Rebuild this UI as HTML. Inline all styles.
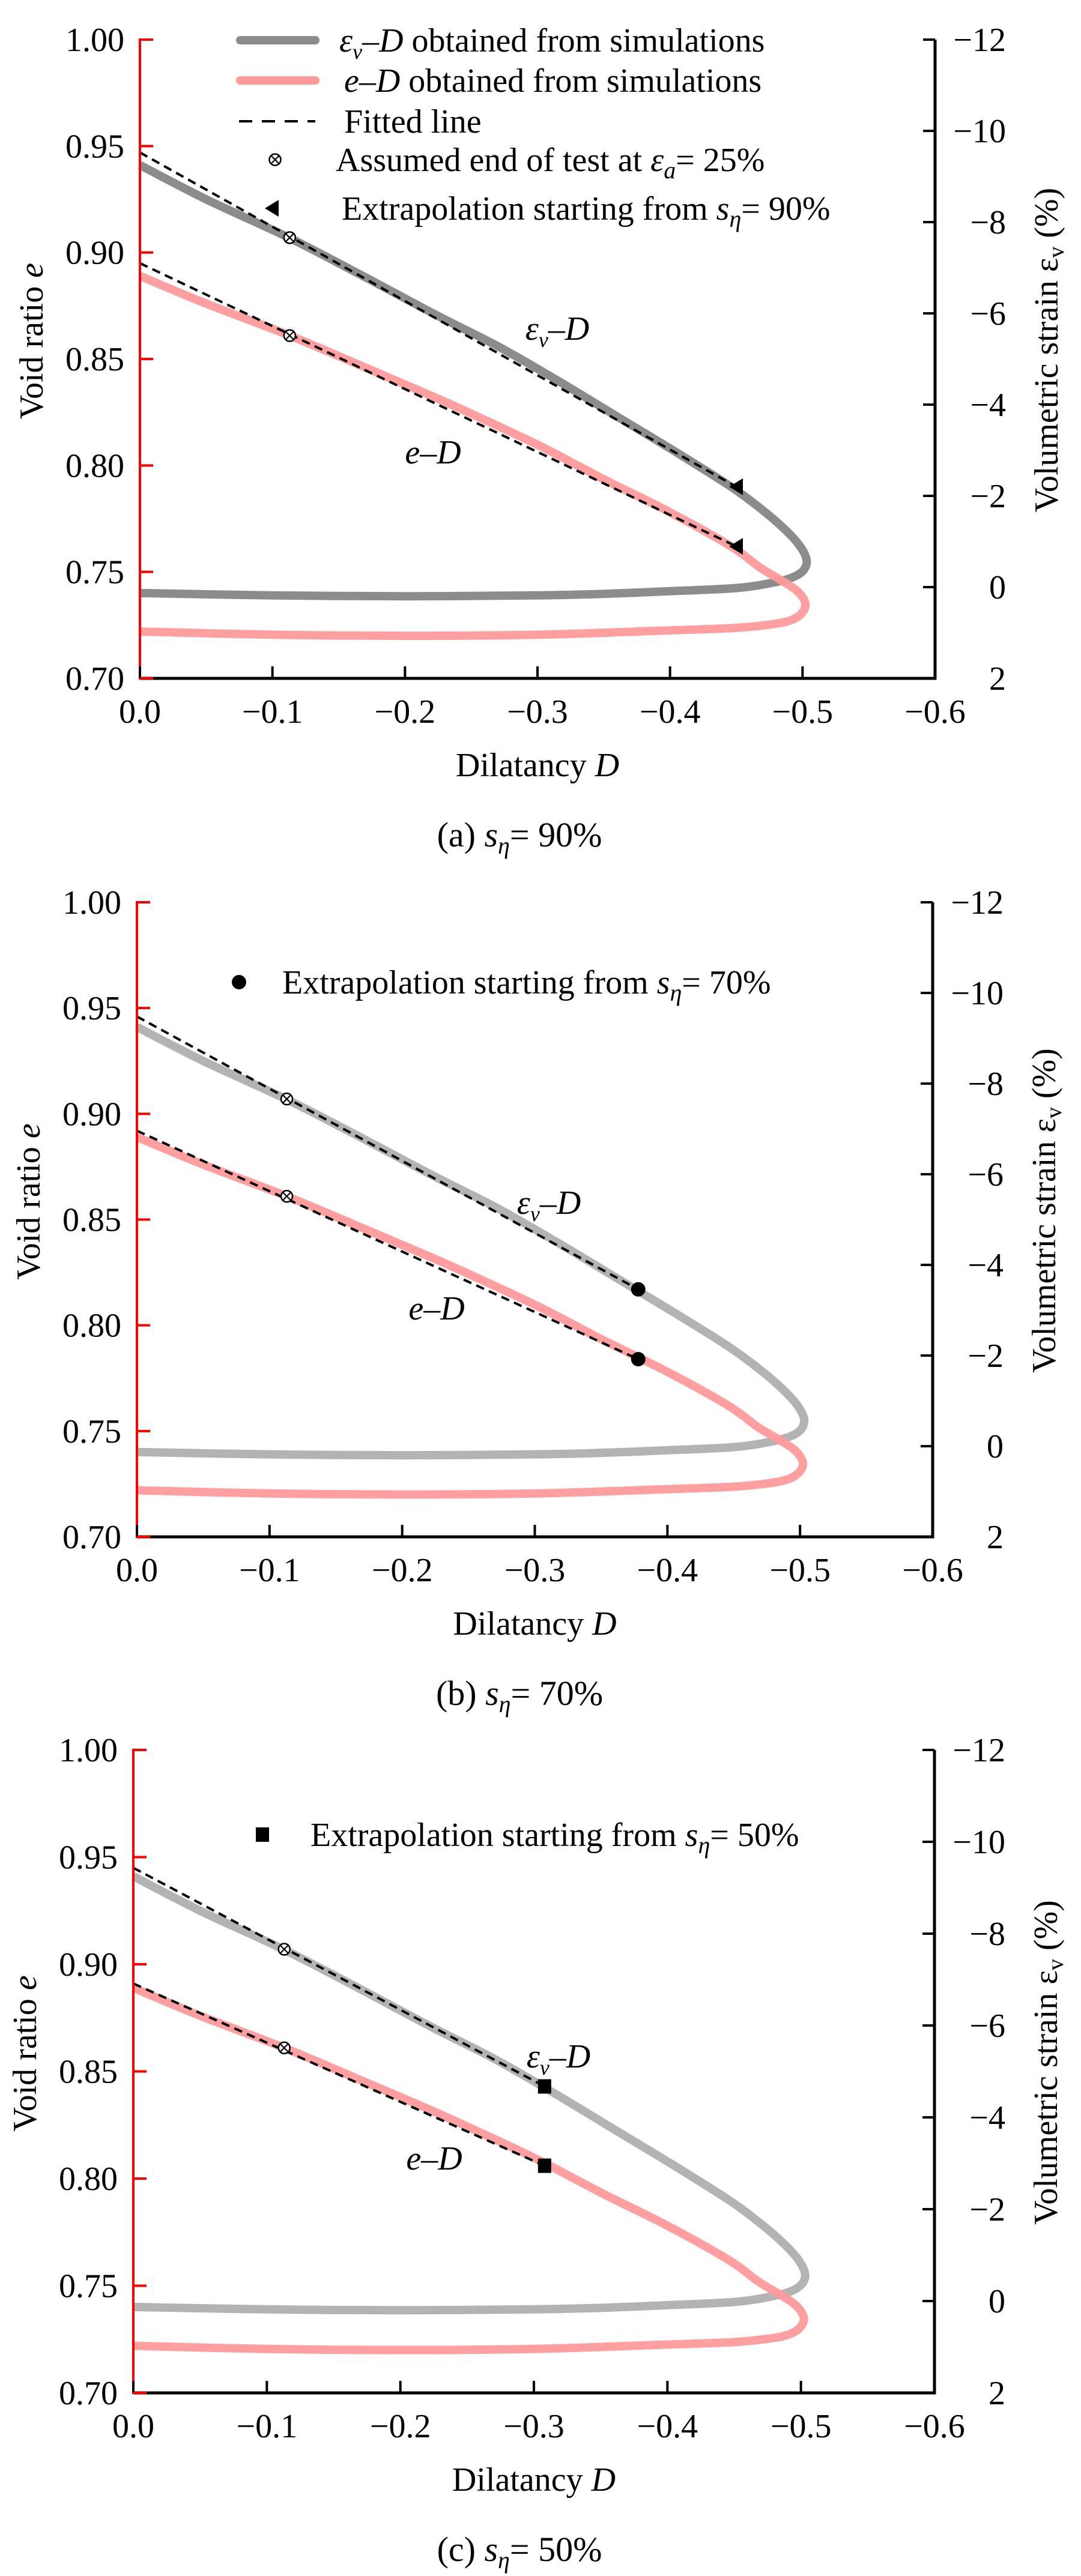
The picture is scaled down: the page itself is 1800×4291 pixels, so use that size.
<!DOCTYPE html>
<html><head><meta charset="utf-8">
<style>
html,body{margin:0;padding:0;background:#fff;}
svg{display:block;font-family:"Liberation Serif","DejaVu Serif",serif;}
</style></head>
<body>
<svg id="fig" width="1800" height="4291" viewBox="0 0 1800 4291" xmlns="http://www.w3.org/2000/svg"></svg>
<script>
// ---- data ----
const xTicks = [0, -0.1, -0.2, -0.3, -0.4, -0.5, -0.6];
const xTickLabels = ["0.0", "\u22120.1", "\u22120.2", "\u22120.3", "\u22120.4", "\u22120.5", "\u22120.6"];
const eTicks = [0.70, 0.75, 0.80, 0.85, 0.90, 0.95, 1.00];
const eTickLabels = ["0.70", "0.75", "0.80", "0.85", "0.90", "0.95", "1.00"];
const evTicks = [2, 0, -2, -4, -6, -8, -10, -12];
const evTickLabels = ["2", "0", "\u22122", "\u22124", "\u22126", "\u22128", "\u221210", "\u221212"];
// ev-D simulated curve (right axis, %)
const evCurveD = [0, -0.05, -0.113, -0.165, -0.2225, -0.27, -0.315, -0.36, -0.405, -0.446, -0.468, -0.485, -0.497, -0.503, -0.501, -0.493, -0.478, -0.45, -0.40, -0.348, -0.30, -0.20, -0.10, 0];
const evCurveV = [-9.25, -8.50, -7.65, -6.87, -5.98, -5.28, -4.53, -3.74, -2.95, -2.20, -1.73, -1.31, -0.94, -0.61, -0.38, -0.22, -0.10, 0.02, 0.09, 0.15, 0.18, 0.20, 0.18, 0.13];
// e-D simulated curve (left axis)
const eCurveD = [0, -0.05, -0.113, -0.17, -0.2225, -0.265, -0.3056, -0.35, -0.40, -0.446, -0.468, -0.484, -0.496, -0.502, -0.500, -0.492, -0.478, -0.45, -0.393, -0.30, -0.20, -0.10, 0];
const eCurveE = [0.889, 0.876, 0.861, 0.846, 0.832, 0.820, 0.808, 0.7935, 0.778, 0.762, 0.752, 0.746, 0.741, 0.7355, 0.731, 0.7275, 0.7255, 0.7237, 0.7224, 0.7205, 0.720, 0.7205, 0.722];
// fitted lines per panel: [D0, e0, D1, e1]
const fitGrayA = [0, 0.947, -0.45, 0.790];
const fitPinkA = [0, 0.895, -0.45, 0.762];
const fitGrayB = [0, 0.946, -0.378, 0.817];
const fitPinkB = [0, 0.892, -0.378, 0.784];
const fitGrayC = [0, 0.945, -0.308, 0.843];
const fitPinkC = [0, 0.891, -0.308, 0.806];
// assumed end-of-test points [D, e]
const endTestD = [-0.113, -0.113];
const endTestE = [0.907, 0.861];
// extrapolation start points
const extrapA_D = [-0.45, -0.45];  const extrapA_E = [0.790, 0.762];
const extrapB_D = [-0.378, -0.378]; const extrapB_E = [0.817, 0.784];
const extrapC_D = [-0.308, -0.308]; const extrapC_E = [0.843, 0.806];

const NS = "http://www.w3.org/2000/svg";
const svg = document.getElementById('fig');
function mk(tag, attrs, parent, text){
  const el = document.createElementNS(NS, tag);
  for (const k in attrs) el.setAttribute(k, attrs[k]);
  if (text !== undefined) el.textContent = text;
  (parent || svg).appendChild(el);
  return el;
}
function smoothPath(pts){
  let d = "M" + pts[0][0].toFixed(1) + "," + pts[0][1].toFixed(1);
  for (let i = 0; i < pts.length - 1; i++){
    const p0 = pts[Math.max(0, i-1)], p1 = pts[i], p2 = pts[i+1], p3 = pts[Math.min(pts.length-1, i+2)];
    const c1x = p1[0] + (p2[0]-p0[0])/6, c1y = p1[1] + (p2[1]-p0[1])/6;
    const c2x = p2[0] - (p3[0]-p1[0])/6, c2y = p2[1] - (p3[1]-p1[1])/6;
    d += " C" + c1x.toFixed(1)+","+c1y.toFixed(1)+" "+c2x.toFixed(1)+","+c2y.toFixed(1)+" "+p2[0].toFixed(1)+","+p2[1].toFixed(1);
  }
  return d;
}

function panel(cfg){
  const g = mk('g', {});
  
  
  const xS = D => cfg.x0 + (D - 0) / (-0.6) * (cfg.x1 - cfg.x0);
  const yE = e => cfg.yB - (e - 0.70) / 0.30 * (cfg.yB - cfg.yT);
  const yV = v => cfg.yB - (2 - v) / 14 * (cfg.yB - cfg.yT);

  const gp = mk('path', {d: smoothPath(evCurveD.map((D,i)=>[xS(D), yV(evCurveV[i])])), fill:'none', stroke:cfg.gray, 'stroke-width':14, 'stroke-linecap':'butt', 'stroke-linejoin':'round'}, g);
  
  
  const pp = mk('path', {d: smoothPath(eCurveD.map((D,i)=>[xS(D), yE(eCurveE[i])])), fill:'none', stroke:'#ff9a9a', 'stroke-width':14, 'stroke-linecap':'butt', 'stroke-linejoin':'round', opacity:0.95}, g);
  
  

  [cfg.fitG, cfg.fitP].forEach((f, i) => {
    const l = mk('line', {x1:xS(f[0]), y1:yE(f[1]), x2:xS(f[2]), y2:yE(f[3]), stroke:'#000', 'stroke-width':4, 'stroke-dasharray':'14 9'}, g);
    
    
  });

  endTestD.forEach((D, i) => {
    const m = crossCircle(g, xS(D), yE(endTestE[i]));
    
    
  });
  cfg.exD.forEach((D, i) => {
    const m = marker(g, cfg.shape, xS(D), yE(cfg.exE[i]));
    
    
  });

  const ax = mk('g', {}, g);
  
  
  mk('line', {x1:cfg.x0, y1:cfg.yB, x2:cfg.x1+2, y2:cfg.yB, stroke:'#000', 'stroke-width':5}, ax);
  mk('line', {x1:cfg.x1, y1:cfg.yT, x2:cfg.x1, y2:cfg.yB+2, stroke:'#000', 'stroke-width':5}, ax);
  mk('line', {x1:cfg.x0, y1:cfg.yT-2, x2:cfg.x0, y2:cfg.yB+2, stroke:'#ff0000', 'stroke-width':4}, ax);
  xTicks.forEach((t, i) => {
    const x = xS(t);
    mk('line', {x1:x, y1:cfg.yB, x2:x, y2:cfg.yB-20, stroke:'#000', 'stroke-width':4}, ax);
    const tl = mk('text', {x:x, y:cfg.yB+74, 'font-size':56, 'text-anchor':'middle'}, ax, xTickLabels[i]);
    
    
  });
  eTicks.forEach((t, i) => {
    const y = yE(t);
    mk('line', {x1:cfg.x0, y1:y, x2:cfg.x0+22, y2:y, stroke:'#ff0000', 'stroke-width':4}, ax);
    const tl = mk('text', {x:cfg.x0-26, y:y+19, 'font-size':56, 'text-anchor':'end'}, ax, eTickLabels[i]);
    
    
  });
  evTicks.forEach((t, i) => {
    const y = yV(t);
    mk('line', {x1:cfg.x1, y1:y, x2:cfg.x1-20, y2:y, stroke:'#000', 'stroke-width':4}, ax);
    const tl = mk('text', {x:cfg.x1+118, y:y+19, 'font-size':56, 'text-anchor':'end'}, ax, evTickLabels[i]);
    
    
  });
  const midY = (cfg.yT + cfg.yB) / 2;
  const xt = mk('text', {x:(cfg.x0+cfg.x1)/2, y:cfg.yB+163, 'font-size':56, 'text-anchor':'middle'}, g);
  xt.innerHTML = 'Dilatancy <tspan font-style="italic">D</tspan>';
  
  
  const lt = mk('text', {x:0, y:0, 'font-size':56, 'text-anchor':'middle', transform:`translate(${cfg.x0-162},${midY-30}) rotate(-90)`}, g);
  lt.innerHTML = 'Void ratio <tspan font-style="italic">e</tspan>';
  
  
  const rt = mk('text', {x:0, y:0, 'font-size':56, 'text-anchor':'middle', transform:`translate(${cfg.x1+204},${midY-15}) rotate(-90)`}, g);
  rt.innerHTML = 'Volumetric strain ε<tspan font-size="38" dy="10">v</tspan><tspan dy="-10"> (%)</tspan>';
  
  
  const l1 = mk('text', {x:cfg.evLab[0], y:cfg.evLab[1]+20, 'font-size':56, 'font-style':'italic', 'text-anchor':'middle'}, g);
  l1.innerHTML = 'ε<tspan font-size="36" dy="12">v</tspan><tspan dy="-12">–D</tspan>';
  
  
  const l2 = mk('text', {x:cfg.eLab[0], y:cfg.eLab[1]+20, 'font-size':56, 'font-style':'italic', 'text-anchor':'middle'}, g, 'e–D');
  
  
  const cap = mk('text', {x:865, y:cfg.yB+280, 'font-size':58, 'text-anchor':'middle'}, g);
  cap.innerHTML = `(${cfg.id}) <tspan font-style="italic">s</tspan><tspan font-style="italic" font-size="40" dy="12">η</tspan><tspan dy="-12">= ${cfg.pct}%</tspan>`;
  
  

  const le = mk('g', {}, g);
  
  
  marker(le, cfg.shape, cfg.legX, cfg.legY);
  const lt2 = mk('text', {x:cfg.legTX, y:cfg.legY+19, 'font-size':56}, le);
  lt2.innerHTML = `Extrapolation starting from <tspan font-style="italic">s</tspan><tspan font-style="italic" font-size="40" dy="12">η</tspan><tspan dy="-12">= ${cfg.pct}%</tspan>`;
  return g;
}

function crossCircle(parent, x, y){
  const g = mk('g', {}, parent);
  mk('circle', {cx:x, cy:y, r:9.5, fill:'#fff', stroke:'#000', 'stroke-width':2.5}, g);
  mk('line', {x1:x-6.5, y1:y-6.5, x2:x+6.5, y2:y+6.5, stroke:'#000', 'stroke-width':2.2}, g);
  mk('line', {x1:x+6.5, y1:y-6.5, x2:x-6.5, y2:y+6.5, stroke:'#000', 'stroke-width':2.2}, g);
  return g;
}
function marker(parent, shape, x, y){
  if (shape === 'tri') return mk('path', {d:`M${x-12},${y} L${x+11},${y-14} L${x+11},${y+14} Z`, fill:'#000'}, parent);
  if (shape === 'circle') return mk('circle', {cx:x, cy:y, r:12, fill:'#000'}, parent);
  return mk('rect', {x:x-11, y:y-12, width:22, height:24, fill:'#000'}, parent);
}

panel({id:'a', pct:90, x0:233, x1:1557, yT:66, yB:1130, gray:'#8c8c8c',
  fitG:fitGrayA, fitP:fitPinkA, exD:extrapA_D, exE:extrapA_E, shape:'tri',
  evLab:[928,546], eLab:[721,752], legX:453, legY:347, legTX:569});
panel({id:'b', pct:70, x0:228, x1:1553, yT:1503, yB:2560, gray:'#b3b3b3',
  fitG:fitGrayB, fitP:fitPinkB, exD:extrapB_D, exE:extrapB_E, shape:'circle',
  evLab:[914,2002], eLab:[727,2178], legX:398, legY:1636, legTX:470});
panel({id:'c', pct:50, x0:222, x1:1556, yT:2915, yB:3986, gray:'#b3b3b3',
  fitG:fitGrayC, fitP:fitPinkC, exD:extrapC_D, exE:extrapC_E, shape:'square',
  evLab:[930,3424], eLab:[723,3594], legX:437, legY:3056, legTX:517});

const leg = mk('g', {});


const e1 = mk('g', {}, leg);


mk('line', {x1:400, y1:67, x2:525, y2:67, stroke:'#8c8c8c', 'stroke-width':14, 'stroke-linecap':'round'}, e1);
mk('text', {x:565, y:86, 'font-size':56}, e1).innerHTML = '<tspan font-style="italic">ε</tspan><tspan font-style="italic" font-size="36" dy="12">v</tspan><tspan font-style="italic" dy="-12">–D</tspan> obtained from simulations';
const e2 = mk('g', {}, leg);


mk('line', {x1:400, y1:134, x2:525, y2:134, stroke:'#ff9a9a', 'stroke-width':14, 'stroke-linecap':'round'}, e2);
mk('text', {x:573, y:153, 'font-size':56}, e2).innerHTML = '<tspan font-style="italic">e–D</tspan> obtained from simulations';
const e3 = mk('g', {}, leg);


mk('line', {x1:398, y1:202, x2:525, y2:202, stroke:'#000', 'stroke-width':4, 'stroke-dasharray':'22 16'}, e3);
mk('text', {x:573, y:221, 'font-size':56}, e3, 'Fitted line');
const e4 = mk('g', {}, leg);


crossCircle(e4, 458, 266);
mk('text', {x:559, y:285, 'font-size':56}, e4).innerHTML = 'Assumed end of test at <tspan font-style="italic">ε</tspan><tspan font-style="italic" font-size="40" dy="12">a</tspan><tspan dy="-12">= 25%</tspan>';
</script>
</body></html>
